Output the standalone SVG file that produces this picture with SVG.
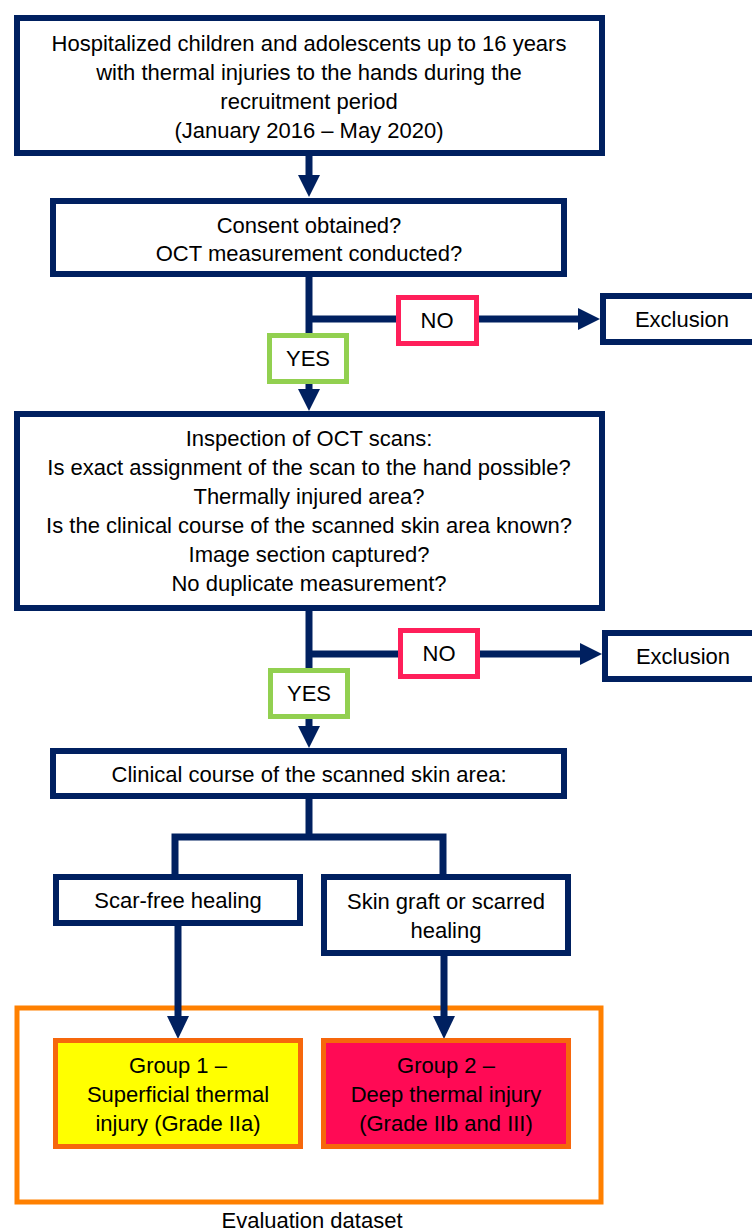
<svg xmlns="http://www.w3.org/2000/svg" width="752" height="1231" viewBox="0 0 752 1231">
<style>
.nb{fill:#fff;stroke:#002060;stroke-width:6}
.no{fill:#fff;stroke:#FF1F5A;stroke-width:5}
.yes{fill:#fff;stroke:#92D050;stroke-width:5}
.eval{fill:none;stroke:#FF8000;stroke-width:5}
.g1{fill:#FFFF00;stroke:#F6670C;stroke-width:5}
.g2{fill:#FF0A55;stroke:#F6670C;stroke-width:5}
.ln{fill:none;stroke:#002060;stroke-width:7;stroke-linejoin:miter}
.ah{fill:#002060}
text{font-family:"Liberation Sans",Arial,sans-serif;font-size:22px;fill:#000;text-anchor:middle}
</style>
<rect width="752" height="1231" fill="#fff"/>
<g id="evaluation-dataset">
<rect class="eval" x="17" y="1008" width="584" height="194"/>
<text x="312" y="1228">Evaluation dataset</text>
</g>
<g id="connectors">
<line class="ln" x1="309" y1="156" x2="309" y2="178"/>
<polygon class="ah" points="298,175 320,175 309,197"/>
<line class="ln" x1="309" y1="277" x2="309" y2="392"/>
<polygon class="ah" points="298,389 320,389 309,411"/>
<line class="ln" x1="309" y1="319" x2="582" y2="319"/>
<polygon class="ah" points="578,308 578,330 600,319"/>
<line class="ln" x1="309" y1="611" x2="309" y2="729"/>
<polygon class="ah" points="298,726 320,726 309,748"/>
<line class="ln" x1="309" y1="654" x2="584" y2="654"/>
<polygon class="ah" points="580,643 580,665 602,654"/>
<line class="ln" x1="309" y1="799" x2="309" y2="837"/>
<polyline class="ln" points="175,875 175,837 443,837 443,875"/>
<line class="ln" x1="178" y1="926" x2="178" y2="1019"/>
<polygon class="ah" points="167,1016 189,1016 178,1039"/>
<line class="ln" x1="444" y1="956" x2="444" y2="1019"/>
<polygon class="ah" points="433,1016 455,1016 444,1039"/>
</g>
<g id="n-start">
<rect class="nb" x="17" y="18" width="585" height="135"/>
<text x="309" y="51">Hospitalized children and adolescents up to 16 years</text>
<text x="309" y="80">with thermal injuries to the hands during the</text>
<text x="309" y="109">recruitment period</text>
<text x="309" y="138">(January 2016 – May 2020)</text>
</g>
<g id="n-consent">
<rect class="nb" x="53" y="201" width="511" height="73"/>
<text x="309" y="233">Consent obtained?</text>
<text x="309" y="261">OCT measurement conducted?</text>
</g>
<g id="n-no1">
<rect class="no" x="398.5" y="297.5" width="78" height="46"/>
<text x="437" y="328">NO</text>
</g>
<g id="n-excl1">
<rect class="nb" x="603" y="296" width="160" height="46"/>
<text x="682" y="327">Exclusion</text>
</g>
<g id="n-yes1">
<rect class="yes" x="269.5" y="335.5" width="77" height="46"/>
<text x="308" y="366">YES</text>
</g>
<g id="n-inspection">
<rect class="nb" x="17" y="414" width="585" height="194"/>
<text x="309" y="446">Inspection of OCT scans:</text>
<text x="309" y="475">Is exact assignment of the scan to the hand possible?</text>
<text x="309" y="504">Thermally injured area?</text>
<text x="309" y="533">Is the clinical course of the scanned skin area known?</text>
<text x="309" y="562">Image section captured?</text>
<text x="309" y="591">No duplicate measurement?</text>
</g>
<g id="n-no2">
<rect class="no" x="400.5" y="630.5" width="77" height="46"/>
<text x="439" y="661">NO</text>
</g>
<g id="n-excl2">
<rect class="nb" x="605" y="633" width="160" height="46"/>
<text x="683" y="664">Exclusion</text>
</g>
<g id="n-yes2">
<rect class="yes" x="270.5" y="670.5" width="77" height="46"/>
<text x="309" y="701">YES</text>
</g>
<g id="n-clinical">
<rect class="nb" x="53" y="751" width="511" height="45"/>
<text x="309" y="782">Clinical course of the scanned skin area:</text>
</g>
<g id="n-scarfree">
<rect class="nb" x="56" y="877" width="244" height="46"/>
<text x="178" y="908">Scar-free healing</text>
</g>
<g id="n-graft">
<rect class="nb" x="324" y="877" width="244" height="76"/>
<text x="446" y="909">Skin graft or scarred</text>
<text x="446" y="938">healing</text>
</g>
<g id="n-group1">
<rect class="g1" x="55.5" y="1040.5" width="245" height="106"/>
<text x="178" y="1073">Group 1 –</text>
<text x="178" y="1102">Superficial thermal</text>
<text x="178" y="1131">injury (Grade IIa)</text>
</g>
<g id="n-group2">
<rect class="g2" x="323.5" y="1040.5" width="245" height="106"/>
<text x="446" y="1073">Group 2 –</text>
<text x="446" y="1102">Deep thermal injury</text>
<text x="446" y="1131">(Grade IIb and III)</text>
</g>
</svg>
